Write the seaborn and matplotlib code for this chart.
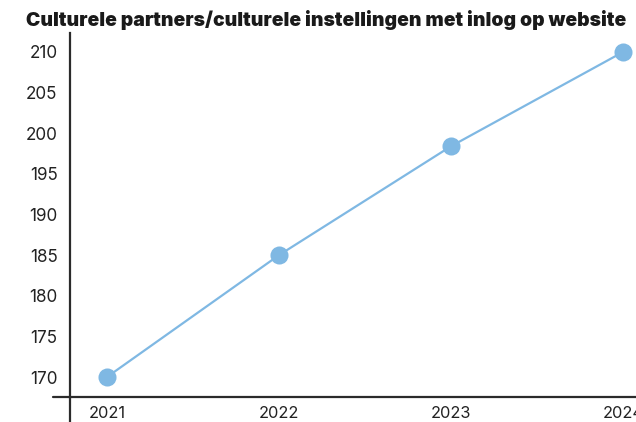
import matplotlib
matplotlib.use("Agg")
import matplotlib.pyplot as plt
import seaborn as sns
import pandas as pd
from matplotlib.lines import Line2D

years = ["2021", "2022", "2023", "2024"]
values = [170, 185, 198.4, 210]
yticks = [170, 175, 180, 185, 190, 195, 200, 205, 210]
title = "Culturele partners/culturele instellingen met inlog op website"

sns.set_theme(style="white")
plt.rcParams["font.family"] = ["Inter", "DejaVu Sans"]

df = pd.DataFrame({"year": years, "value": values})
df["idx"] = range(len(years))

W, H = 636, 422
fig = plt.figure(figsize=(W / 100, H / 100), dpi=100)
left, right, bottom, top = 70, 636, 397, 33
ax = fig.add_axes([left / W, 1 - bottom / H, (right - left) / W, (bottom - top) / H])

color = "#7fb8e3"
sns.lineplot(data=df, x="idx", y="value", ax=ax, color=color, linewidth=1.6,
             marker="o", markersize=13, markeredgewidth=0, markerfacecolor=color,
             clip_on=False)

ax.set_xlim(-37 / 172, 3 + 13 / 172)
ax.set_ylim(170 - 20 / 8.125, 210 + 19 / 8.125)
ax.set_xticks(df["idx"])
ax.set_xticklabels(years)
ax.set_yticks(yticks)
ax.set_xlabel("")
ax.set_ylabel("")
ax.tick_params(axis="both", length=0, colors="#222222")
ax.tick_params(axis="y", pad=9, labelsize=12.3)
ax.tick_params(axis="x", pad=6.5, labelsize=11.8)
ax.grid(False)

for s in ["top", "right"]:
    ax.spines[s].set_visible(False)
spine_c = "#2b2b2b"
for s in ["left", "bottom"]:
    ax.spines[s].set_color(spine_c)
    ax.spines[s].set_linewidth(1.6)

# extend spines (cross style)
ax.add_line(Line2D([0, 0], [0, -25 / (bottom - top)], transform=ax.transAxes,
                   color=spine_c, linewidth=1.6, clip_on=False))
ax.add_line(Line2D([-17 / (right - left), 0], [0, 0], transform=ax.transAxes,
                   color=spine_c, linewidth=1.6, clip_on=False))

fig.text(26 / W, 1 - 26 / H, title, fontsize=13.9, fontweight="black",
         color="#1a1a1a", ha="left", va="baseline")

fig.savefig("out.png", dpi=100)
